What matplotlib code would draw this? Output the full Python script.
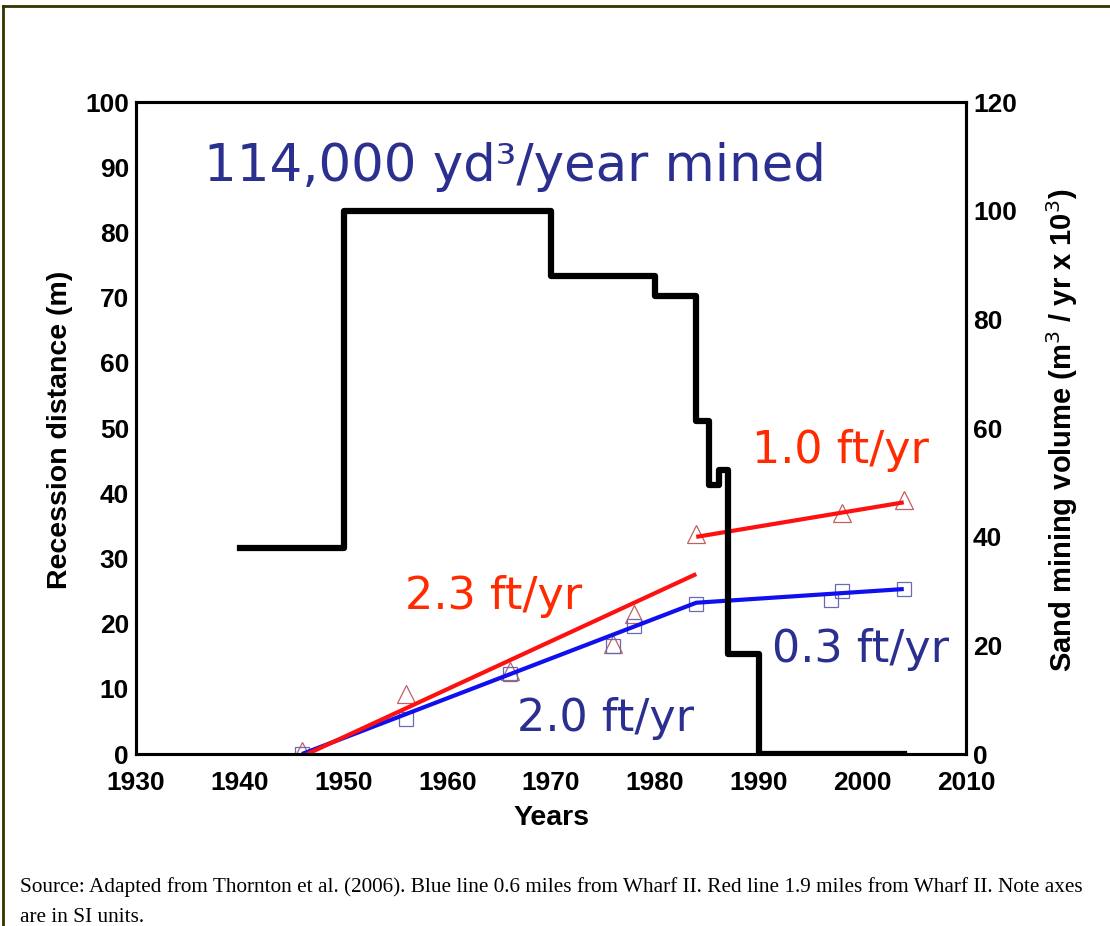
import matplotlib
matplotlib.use('Agg')
import matplotlib.pyplot as plt
from matplotlib.lines import Line2D

# sand mining volume (m3/yr x 10^3), drawn as steps
mine_years = [1940, 1950, 1970, 1980, 1984, 1985.2, 1986.2, 1987.1, 1990, 2004]
mine_volume = [38, 100, 88, 84.3, 61.3, 49.6, 52.2, 18.4, 0, 0]

# recession distance (m) observations
blue_years = [1946, 1956, 1966, 1976, 1978, 1984, 1997, 1998, 2004]
blue_dist = [0, 5.4, 12.3, 16.6, 19.7, 23.0, 23.6, 25.0, 25.3]
red_years = [1946, 1956, 1966, 1976, 1978, 1984, 1998, 2004]
red_dist = [0.5, 9.2, 12.8, 16.9, 21.5, 33.7, 37.0, 39.0]

# fitted trend lines
blue_fit_years = [1946, 1984, 2004]
blue_fit_dist = [0, 23.2, 25.3]
red_fit1_years = [1946.5, 1984]
red_fit1_dist = [0, 27.6]
red_fit2_years = [1984, 2004]
red_fit2_dist = [33.3, 38.6]

NAVY = '#2b2f8f'
ORANGE_RED = '#ff2a00'

fig = plt.figure(figsize=(11.1, 9.26), dpi=100)
ax = fig.add_axes([136/1110, 1-754/926, 830/1110, 652/926])
ax2 = ax.twinx()

tickfont = {'family': 'Liberation Sans', 'weight': 'bold', 'size': 19}

ax.plot(red_years, red_dist, '^', ms=13, mfc='none', mec='#c06060', mew=0.9, zorder=3)
ax.plot(blue_years, blue_dist, 's', ms=10.5, mfc='none', mec='#6a6ab4', mew=0.9, zorder=3)
ax.plot(blue_fit_years, blue_fit_dist, color='#1010ee', lw=3, solid_capstyle='butt', zorder=4)
ax.plot(red_fit1_years, red_fit1_dist, color='#ff1010', lw=3, solid_capstyle='butt', zorder=5)
ax.plot(red_fit2_years, red_fit2_dist, color='#ff1010', lw=3, solid_capstyle='butt', zorder=5)

ax2.plot(mine_years, mine_volume, drawstyle='steps-post', color='black', lw=4.5)

ax.set_xlim(1930, 2010)
ax.set_ylim(0, 100)
ax2.set_ylim(0, 120)
ax.set_xticks(range(1930, 2011, 10))
ax.set_yticks(range(0, 101, 10))
ax2.set_yticks(range(0, 121, 20))
for a in (ax, ax2):
    a.tick_params(length=0, pad=5)
    for lab in a.get_xticklabels() + a.get_yticklabels():
        lab.set_fontproperties(tickfont)
    for s in a.spines.values():
        s.set_linewidth(2.2)
ax.tick_params(axis='x', pad=12)

# annotations
ax.text(1936.6, 90, '114,000 yd\u00b3/year mined', color=NAVY, fontsize=37,
        ha='left', va='center', family='DejaVu Sans')
ax.text(1989.4, 46.6, '1.0 ft/yr', color=ORANGE_RED, fontsize=32, ha='left', va='center')
ax.text(1955.9, 24.1, '2.3 ft/yr', color=ORANGE_RED, fontsize=32, ha='left', va='center')
ax.text(1991.3, 16.0, '0.3 ft/yr', color=NAVY, fontsize=32, ha='left', va='center')
ax.text(1966.7, 5.5, '2.0 ft/yr', color=NAVY, fontsize=32, ha='left', va='center')

labfont = dict(family='Liberation Sans', weight='bold')
fig.text(60/1110, 1-430/926, 'Recession distance (m)', rotation=90,
         ha='center', va='center', size=20.5, **labfont)
fig.text(551/1110, 1-818/926, 'Years', ha='center', va='center', size=20.5, **labfont)
fig.text(1062/1110, 1-430/926, 'Sand mining volume (m$^3$ / yr x 10$^3$)', rotation=90,
         ha='center', va='center', size=21, **labfont)

# caption
capfont = dict(family='Liberation Serif', size=15.3, color='black')
fig.text(20/1110, 1-892/926, 'Source: Adapted from Thornton et al. (2006). Blue line 0.6 miles '
         'from Wharf II. Red line 1.9 miles from Wharf II. Note axes',
         ha='left', va='baseline', **capfont)
fig.text(20/1110, 1-922/926, 'are in SI units.', ha='left', va='baseline', **capfont)

# page frame (top and left edge)
fig.add_artist(Line2D([3/1110, 1], [1-6/926, 1-6/926], transform=fig.transFigure,
                      color='#333300', lw=2))
fig.add_artist(Line2D([3/1110, 3/1110], [0, 1-6/926], transform=fig.transFigure,
                      color='#333300', lw=2))

fig.savefig('out.png', dpi=100)
